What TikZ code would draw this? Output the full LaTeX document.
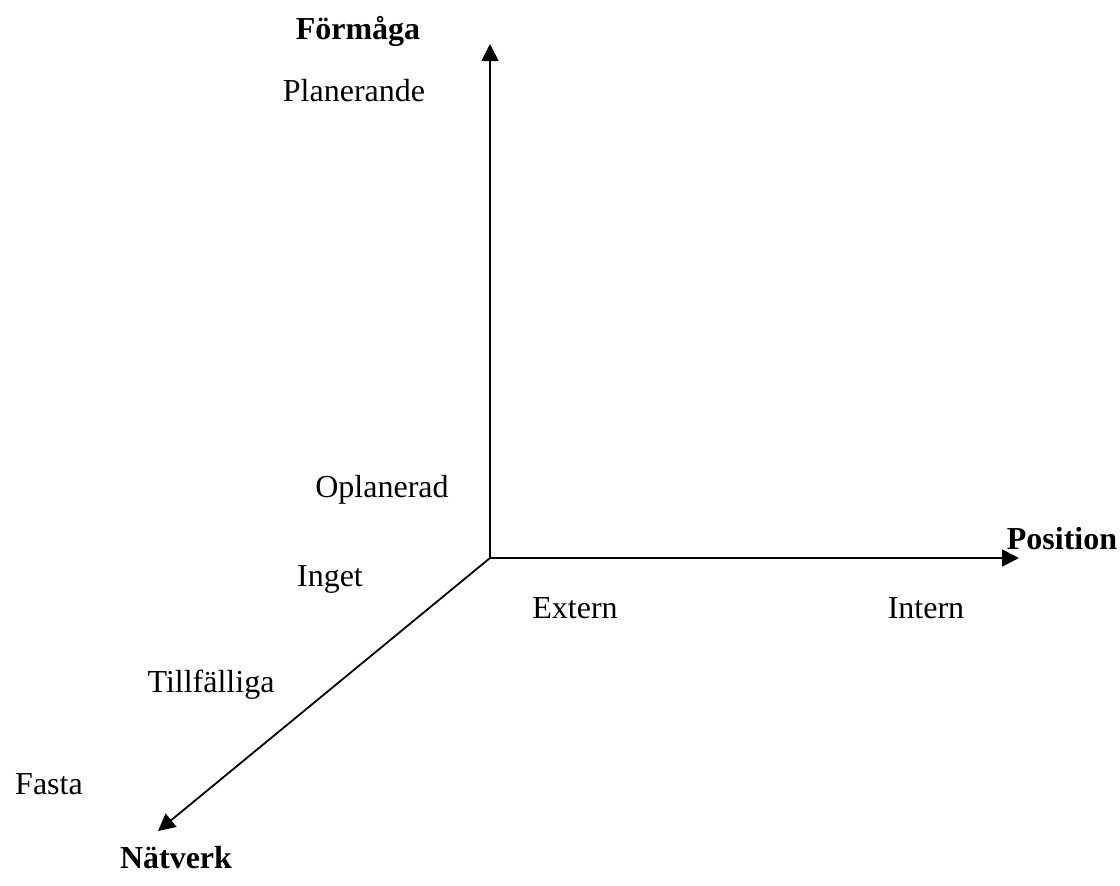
\documentclass[tikz,border=0pt]{standalone}
\usepackage{fontspec}
\setmainfont{Liberation Serif}
\usetikzlibrary{arrows.meta}
\begin{document}
\begin{tikzpicture}[x=0.5pt,y=-0.5pt,
  axis/.style={line width=0.9pt,-{Triangle[length=8.5pt,width=8.5pt]}},
  lbl/.style={anchor=base,inner sep=0pt,font=\fontsize{16}{19}\selectfont},
  ttl/.style={lbl,font=\fontsize{16}{19}\selectfont\bfseries}]
\useasboundingbox (0,0) rectangle (1120,885);
\coordinate (o) at (490,558);
\coordinate (up) at (490,44);
\coordinate (rt) at (1019,558);
\coordinate (dl) at (158,831);
\draw[axis] (o) -- (up);
\draw[axis] (o) -- (rt);
\draw[axis] (o) -- (dl);
\node[ttl] (formaga) at (358,39) {Förmåga};
\node[lbl] (plan) at (354,101) {Planerande};
\node[lbl] (oplan) at (382,497) {Oplanerad};
\node[ttl] (pos) at (1062,549) {Position};
\node[lbl] (inget) at (330,586) {Inget};
\node[lbl] (extern) at (575,618) {Extern};
\node[lbl] (intern) at (926,618) {Intern};
\node[lbl] (tillf) at (211,692) {Tillfälliga};
\node[lbl] (fasta) at (49,794) {Fasta};
\node[ttl] (natv) at (176,868) {Nätverk};
\end{tikzpicture}
\end{document}
